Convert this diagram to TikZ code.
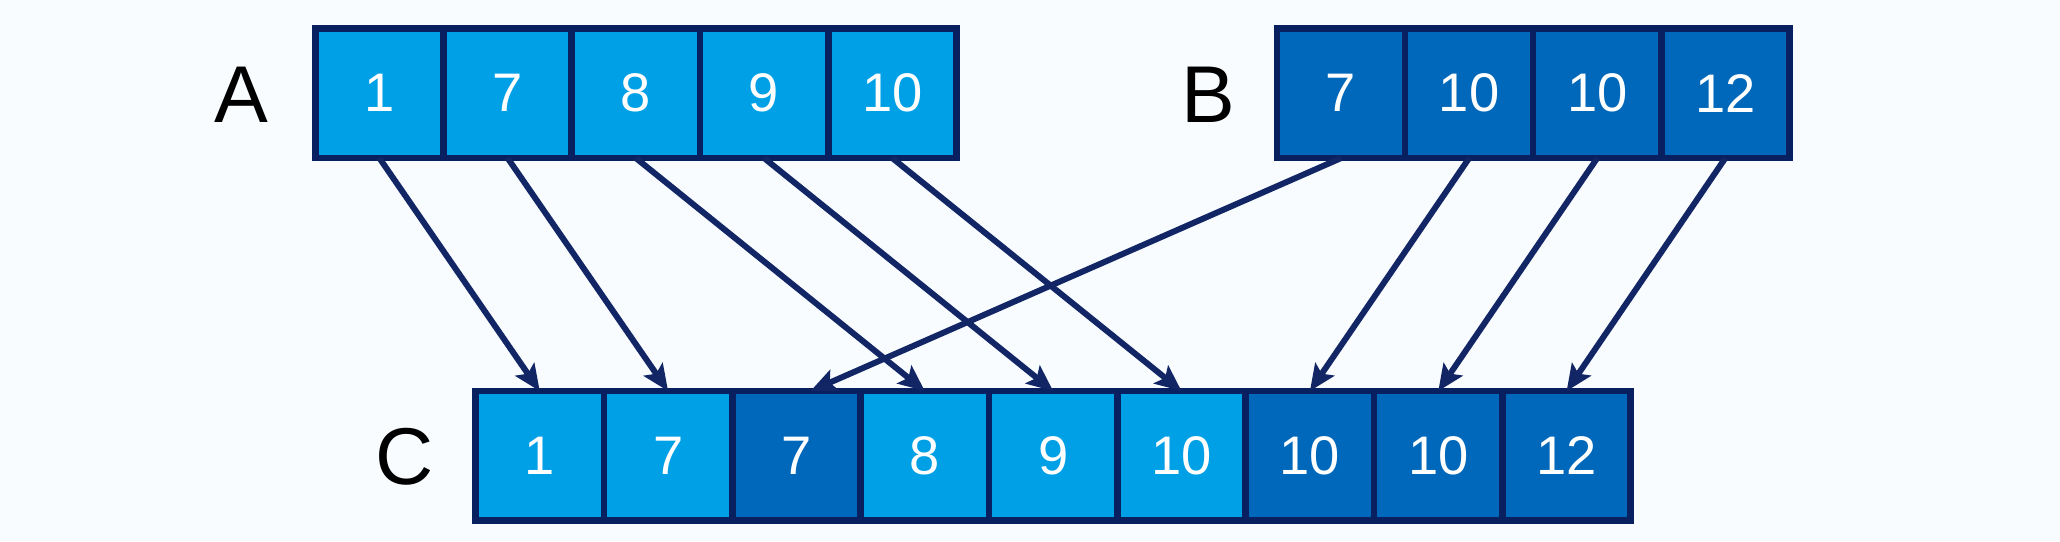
\documentclass[tikz,border=0pt]{standalone}
\usepackage{fontspec}
\setmainfont{Liberation Sans}
\usetikzlibrary{arrows.meta}
\definecolor{bgc}{RGB}{248,252,255}
\definecolor{lightc}{RGB}{0,160,230}
\definecolor{darkc}{RGB}{0,104,186}
\definecolor{navy}{RGB}{8,32,96}
\definecolor{arrc}{RGB}{18,38,102}
\tikzset{
  cellbox/.style={draw=navy, line width=3.8pt, minimum width=73.2pt, minimum height=74pt,
    inner sep=0pt, outer sep=0pt, text=white, font=\fontsize{31}{32}\selectfont},
  lcell/.style={cellbox, fill=lightc},
  dcell/.style={cellbox, fill=darkc},
  arrlabel/.style={font=\fontsize{46}{48}\selectfont, text=black},
  conn/.style={draw=arrc, line width=3.4pt, -{Stealth[length=15pt,width=13pt,inset=3pt]}}
}
\begin{document}
\begin{tikzpicture}[x=0.75pt, y=-0.75pt]
\fill[bgc] (0,0) rectangle (1568,412);
\useasboundingbox (0,0) rectangle (1568,412);
% A
\foreach \v [count=\i] in {1,7,8,9,10}
  \node[lcell] (a\i) at ({240+97.6*(\i-0.5)},71) {\v};
% B
\foreach \v [count=\i] in {7,10,10,12}
  \node[dcell] (b\i) at ({972+97.5*(\i-0.5)},71) {\v};
% C
\foreach \v/\s [count=\i] in {1/lcell,7/lcell,7/dcell,8/lcell,9/lcell,10/lcell,10/dcell,10/dcell,12/dcell}
  \node[\s] (c\i) at ({362+97.7*(\i-0.5)},347) {\v};
% labels
\node[arrlabel] (la) at (184,72) {A};
\node[arrlabel] (lb) at (920,72) {B};
\node[arrlabel] (lc) at (308,348) {C};
% connectors
\draw[conn] (a1.south) -- (c1.north);
\draw[conn] (a2.south) -- (c2.north);
\draw[conn] (a3.south) -- (c4.north);
\draw[conn] (a4.south) -- (c5.north);
\draw[conn] (a5.south) -- (c6.north);
\draw[conn] (b1.south) -- ([xshift=8pt]c3.north);
\draw[conn] (b2.south) -- (c7.north);
\draw[conn] (b3.south) -- (c8.north);
\draw[conn] (b4.south) -- (c9.north);
\end{tikzpicture}
\end{document}
